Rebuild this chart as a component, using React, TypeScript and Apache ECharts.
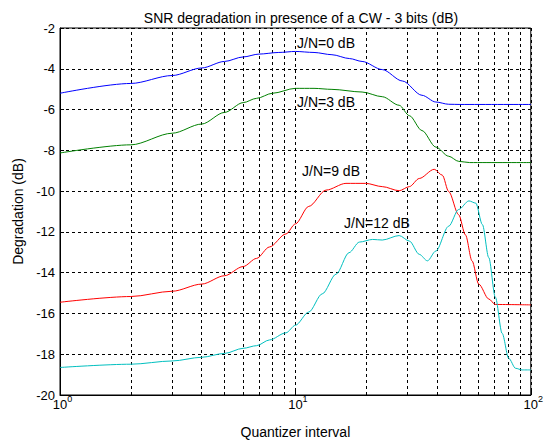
import React, { useEffect, useRef } from "react";
import * as echarts from "echarts";

const titleText = "SNR degradation in presence of a CW - 3 bits (dB)";
const xName = "Quantizer interval";
const yName = "Degradation (dB)";

const minorGridX = [2, 3, 4, 5, 6, 7, 8, 9, 20, 30, 40, 50, 60, 70, 80, 90];

const jn0X = [1, 2, 3, 4, 5, 6, 7, 8.5, 10, 12, 14.3, 17, 19.2, 23.4, 28.5, 34.5, 39.5, 44.8, 50, 100];
const jn0Y = [-5.2, -4.72, -4.33, -3.96, -3.64, -3.42, -3.28, -3.2, -3.15, -3.2, -3.31, -3.5, -3.64, -4.04, -4.6, -5.3, -5.63, -5.74, -5.75, -5.75];

const jn3X = [1, 2, 3, 4, 5, 6, 6.84, 8, 10, 12, 14.3, 19.2, 23.4, 27.6, 30.5, 34.5, 39.5, 44.8, 49.4, 55, 100];
const jn3Y = [-8.13, -7.73, -7.16, -6.71, -6.14, -5.66, -5.45, -5.2, -4.96, -4.96, -5.01, -5.14, -5.37, -5.79, -6.3, -7.03, -7.84, -8.29, -8.54, -8.6, -8.6];

const jn9X = [1, 2, 3, 4, 5, 6, 6.84, 7.76, 9.12, 10, 11.4, 13.5, 16.4, 19.9, 23.4, 27.6, 30.5, 33.6, 38.9, 42.1, 44.8, 49.4, 52.8, 56.3, 60.1, 66.3, 70.7, 100];
const jn9Y = [-15.45, -15.17, -14.91, -14.56, -14.15, -13.7, -13.3, -12.74, -12.1, -11.61, -10.75, -9.95, -9.62, -9.62, -9.78, -9.98, -9.78, -9.38, -8.93, -9.22, -10.02, -11.16, -12.15, -13.42, -14.56, -15.29, -15.56, -15.58];

const jn12X = [1, 2, 3, 4, 5, 6, 6.84, 7.76, 9.12, 10, 11.4, 13, 14.9, 16.9, 18.7, 21.3, 23.4, 27.6, 30.5, 33.6, 36.4, 39.5, 44.8, 49.4, 54.6, 58.4, 62.3, 66.3, 70.7, 75.6, 80.6, 86.2, 91.9, 100];
const jn12Y = [-18.65, -18.49, -18.33, -18.15, -17.96, -17.71, -17.58, -17.3, -16.95, -16.58, -15.93, -15.04, -14.07, -13.02, -12.5, -12.37, -12.4, -12.18, -12.45, -13.1, -13.42, -12.94, -11.72, -10.9, -10.48, -10.59, -11.64, -13.26, -15.2, -16.98, -18.2, -18.69, -18.77, -18.77];

const seriesNames = ["J/N=0 dB", "J/N=3 dB", "J/N=9 dB", "J/N=12 dB"];
const seriesColors = ["#0000ff", "#008000", "#ff0000", "#00bfbf"];

const FONT = "'Liberation Sans', Arial, sans-serif";

function zip(xs: number[], ys: number[]) {
  return xs.map((x, i) => [x, ys[i]]);
}

export default function App() {
  const ref = useRef<HTMLDivElement>(null);
  useEffect(() => {
    if (!ref.current) return;
    const chart = echarts.init(ref.current, undefined, { renderer: "svg" });
    const dataSets = [zip(jn0X, jn0Y), zip(jn3X, jn3Y), zip(jn9X, jn9Y), zip(jn12X, jn12Y)];
    const gridDash = { color: "#000", width: 1, type: [3, 3] as number[] };
    const series: any[] = dataSets.map((d, i) => ({
      type: "line",
      name: seriesNames[i],
      data: d,
      showSymbol: false,
      smooth: 0.3,
      smoothMonotone: "x",
      lineStyle: { color: seriesColors[i], width: 1 },
      z: 5,
    }));
    series.push({
      type: "line",
      data: [],
      silent: true,
      markLine: {
        silent: true,
        symbol: "none",
        label: { show: false },
        lineStyle: gridDash,
        data: minorGridX.map((v) => ({ xAxis: v })),
        z: 1,
      },
    });
    const labelFont = "14px " + FONT;
    const option: any = {
      animation: false,
      backgroundColor: "#fff",
      textStyle: { fontFamily: FONT },
      title: {
        text: titleText,
        left: 296,
        textAlign: "center",
        top: 6,
        textStyle: { fontFamily: FONT, fontSize: 14, fontWeight: "normal", color: "#000" },
      },
      grid: {
        left: 60,
        right: 14,
        top: 28,
        bottom: 45,
        show: true,
        borderColor: "#000",
        borderWidth: 1,
        backgroundColor: "#fff",
      },
      xAxis: {
        type: "log",
        logBase: 10,
        min: 1,
        max: 100,
        name: xName,
        nameLocation: "middle",
        nameGap: 30,
        nameTextStyle: { fontFamily: FONT, fontSize: 14, color: "#000" },
        axisLine: { lineStyle: { color: "#000" } },
        axisTick: { inside: true, length: 4, lineStyle: { color: "#000" } },
        splitLine: { show: true, lineStyle: gridDash },
        axisLabel: {
          color: "#000",
          margin: 1,
          formatter: (v: number) => {
            const e = Math.round(Math.log10(v));
            return "{b|10}{s|" + e + "}";
          },
          rich: {
            b: { fontFamily: FONT, fontSize: 13, lineHeight: 13, color: "#000", padding: [4, 0, 0, 5] },
            s: { fontFamily: FONT, fontSize: 9, lineHeight: 9, color: "#000", padding: [0, 0, 8, 0] },
          },
        },
      },
      yAxis: {
        type: "value",
        min: -20,
        max: -2,
        interval: 2,
        name: yName,
        nameLocation: "middle",
        nameGap: 31,
        nameTextStyle: { fontFamily: FONT, fontSize: 14, color: "#000" },
        axisLine: { show: true, lineStyle: { color: "#000" } },
        axisTick: { show: true, inside: true, length: 4, lineStyle: { color: "#000" } },
        splitLine: { show: true, lineStyle: gridDash },
        axisLabel: { color: "#000", fontFamily: FONT, fontSize: 13, margin: 5 },
      },
      graphic: [
        { type: "text", left: 297, top: 36, style: { text: seriesNames[0], font: labelFont, fill: "#000" } },
        { type: "text", left: 297, top: 95, style: { text: seriesNames[1], font: labelFont, fill: "#000" } },
        { type: "text", left: 302, top: 164, style: { text: seriesNames[2], font: labelFont, fill: "#000" } },
        { type: "text", left: 344, top: 216, style: { text: seriesNames[3], font: labelFont, fill: "#000" } },
      ],
      series,
    };
    chart.setOption(option);
    return () => chart.dispose();
  }, []);
  return (
    <div
      ref={ref}
      style={{ position: "absolute", left: 0, top: 0, width: 546, height: 444, background: "#fff" }}
    />
  );
}
